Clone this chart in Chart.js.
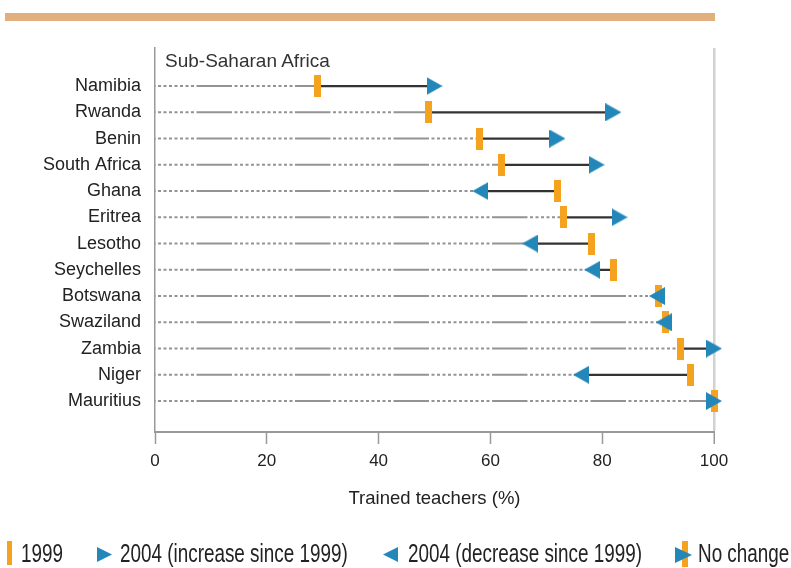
<!DOCTYPE html>
<html><head><meta charset="utf-8">
<script src="https://cdn.jsdelivr.net/npm/chart.js@4.4.1/dist/chart.umd.min.js"></script>
<style>
html,body{margin:0;padding:0;background:#fff;}
#wrap{position:relative;width:791px;height:568px;overflow:hidden;}
#box{position:absolute;left:0;top:0;width:791px;height:568px;}
.topbar{position:absolute;left:5px;top:13px;width:710px;height:8px;background:#E2B07F;}
.sub{position:absolute;left:165px;top:51px;font-family:'Liberation Sans',Arial,sans-serif;font-size:19px;line-height:19px;color:#333;white-space:nowrap;}
.lg{position:absolute;top:539px;font-family:'Liberation Sans',Arial,sans-serif;font-size:25px;line-height:28px;color:#222;white-space:nowrap;transform:scaleX(0.755);transform-origin:0 50%;}
svg.icons{position:absolute;left:0;top:0;}
</style></head><body>
<div id="wrap">
<div id="box"><canvas id="c"></canvas></div>
<div class="topbar"></div>
<div class="sub">Sub-Saharan Africa</div>
<svg class="icons" width="791" height="568">
  <rect x="7" y="541" width="5" height="24" fill="#F5A31E"/>
  <polygon points="97,547 112,554.5 97,562" fill="#2388B9"/>
  <polygon points="398,547 383,554.5 398,562" fill="#2388B9"/>
  <rect x="682" y="541" width="6" height="26" fill="#F5A31E"/>
  <polygon points="675,547 692,555 675,563" fill="#2388B9"/>
</svg>
<div class="lg" style="left:21px">1999</div>
<div class="lg" style="left:120px">2004 (increase since 1999)</div>
<div class="lg" style="left:408px">2004 (decrease since 1999)</div>
<div class="lg" style="left:698px">No change</div>
</div>
<script>
// ---- data ----
const countries = ['Namibia','Rwanda','Benin','South Africa','Ghana','Eritrea','Lesotho','Seychelles','Botswana','Swaziland','Zambia','Niger','Mauritius'];
const trained1999 = [29.0, 49.0, 58.0, 62.0, 72.0, 73.0, 78.1, 82.0, 90.0, 91.3, 94.0, 95.8, 100];
const trained2004 = [50.0, 82.0, 72.0, 79.0, 58.2, 83.1, 67.1, 78.2, 89.8, 91.0, 100, 76.2, 100];
const xTicks = [0, 20, 40, 60, 80, 100];

const ORANGE = '#F5A31E', BLUE = '#2388B9';
const REG = "'Liberation Sans',Arial,sans-serif";

function makeTri(dir){
  const c = document.createElement('canvas'); c.width = 16; c.height = 18;
  const g = c.getContext('2d'); g.fillStyle = BLUE; g.beginPath();
  if (dir > 0) { g.moveTo(0,0); g.lineTo(16,9); g.lineTo(0,18); }
  else { g.moveTo(16,0); g.lineTo(0,9); g.lineTo(16,18); }
  g.closePath(); g.fill(); return c;
}
function makeBar(){
  const c = document.createElement('canvas'); c.width = 7; c.height = 22;
  const g = c.getContext('2d'); g.fillStyle = ORANGE; g.fillRect(0,0,7,22); return c;
}
const triRight = makeTri(1), triLeft = makeTri(-1), barImg = makeBar();

const baseData = [], changeData = [], pts1999 = [], pts2004 = [];
countries.forEach((c, i) => {
  const a = trained1999[i], b = trained2004[i];
  const lo = Math.min(a, b), hi = Math.max(a, b);
  baseData.push({x: 0, y: i}, {x: lo, y: i}, {x: null, y: null});
  if (hi > lo) changeData.push({x: lo, y: i}, {x: hi, y: i}, {x: null, y: null});
  pts1999.push({x: a, y: i});
  pts2004.push({x: b, y: i});
});

const dash = [35.5, 2.5];
for (let k = 0; k < 11; k++) dash.push(3, 2.5);

new Chart(document.getElementById('c'), {
  type: 'scatter',
  data: { datasets: [
    { label: 'base', data: baseData, showLine: true, borderColor: '#939393', borderWidth: 1.9,
      borderDash: dash, borderDashOffset: 57, pointRadius: 0, spanGaps: false, order: 4, clip: false },
    { label: 'change', data: changeData, showLine: true, borderColor: '#333333', borderWidth: 2.2,
      pointRadius: 0, spanGaps: false, order: 3, clip: false },
    { label: '1999', data: pts1999, pointStyle: barImg, pointRadius: 5, order: 2, clip: false },
    { label: '2004', data: pts2004, pointRadius: 5, order: 1, clip: false,
      pointStyle: (ctx) => {
        const i = ctx.dataIndex;
        return trained2004[i] >= trained1999[i] ? triRight : triLeft;
      } }
  ]},
  options: {
    responsive: true, maintainAspectRatio: false, animation: false, events: [],
    layout: { padding: { top: 48, right: 77, bottom: 0, left: 0 } },
    plugins: { legend: { display: false }, tooltip: { enabled: false } },
    scales: {
      x: {
        type: 'linear', position: 'bottom', min: 0, max: 100,
        afterBuildTicks: s => { s.ticks = xTicks.map(v => ({ value: v })); },
        afterFit: s => { s.height = 136; },
        ticks: { padding: 7, color: '#222', font: { family: REG, size: 17 }, maxRotation: 0, autoSkip: false },
        grid: {
          drawOnChartArea: true, drawTicks: true, tickLength: 12, tickWidth: 1.5, tickColor: '#999',
          color: c => (c.tick && c.tick.value === 100) ? '#d2d2d2' : 'rgba(0,0,0,0)',
          lineWidth: c => (c.tick && c.tick.value === 100) ? 2.5 : 1
        },
        border: { display: true, color: '#999', width: 2 },
        title: { display: true, text: 'Trained teachers (%)', color: '#222',
                 font: { family: REG, size: 18.5 }, padding: { top: 0, bottom: 58 } }
      },
      y: {
        type: 'linear', reverse: true, min: -1.45, max: 13.18,
        afterBuildTicks: s => { s.ticks = countries.map((c, i) => ({ value: i })); },
        afterFit: s => { s.width = 155; },
        ticks: { padding: 14, color: '#222', font: { family: REG, size: 18 }, autoSkip: false,
                 callback: v => countries[v] },
        grid: { display: false, drawTicks: false },
        border: { display: true, color: '#999', width: 1.5 }
      }
    }
  }
});
</script>
</body></html>
